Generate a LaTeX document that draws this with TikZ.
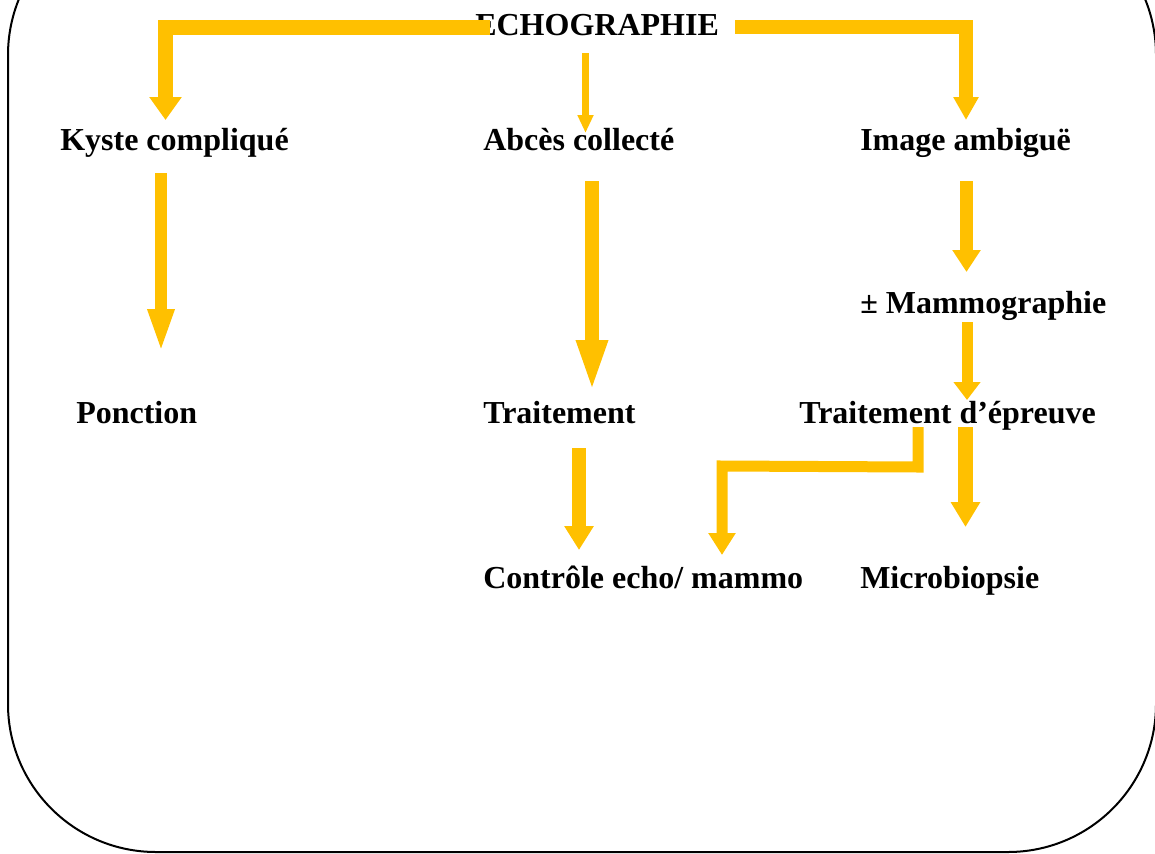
\documentclass[tikz,border=0pt]{standalone}
\usepackage{fontspec}
\setmainfont{Liberation Serif}
\usetikzlibrary{arrows.meta,calc}
\definecolor{amber}{HTML}{FFC000}
\tikzset{
  lbl/.style={anchor=base west, inner sep=0pt, font=\bfseries\fontsize{24}{28}\selectfont},
  flow/.style n args={3}{draw=amber, line width=#1, miter limit=10,
    -{Triangle[width=#2,length=#3]}},
}
\begin{document}
\begin{tikzpicture}[x=0.75pt,y=-0.75pt]
  \useasboundingbox (0,0) rectangle (1155,853);
  \clip (0,0) rectangle (1155,853);

  % outer frame with large rounded corners
  \draw[line width=1.5pt, rounded corners=111pt] (8,-93) rectangle (1156,852);

  % labels
  \node[lbl] (echo)     at (475,36)  {ECHOGRAPHIE};
  \node[lbl] (kyste)    at (60,150)  {Kyste compliqué};
  \node[lbl] (abces)    at (483,150) {Abcès collecté};
  \node[lbl] (image)    at (860,150) {Image ambiguë};
  \node[lbl] (mammo)    at (860,313) {± Mammographie};
  \node[lbl] (ponction) at (76,423)  {Ponction};
  \node[lbl] (trait)    at (483,423) {Traitement};
  \node[lbl] (tepreuve) at (799,423) {Traitement d’épreuve};
  \node[lbl] (controle) at (483,588) {Contrôle echo/ mammo};
  \node[lbl] (micro)    at (860,588) {Microbiopsie};

  % connectors
  \draw[flow={11.25pt}{23.25pt}{17.25pt}]
    ($(echo.base west)+(15,-9)$) -| ($(kyste.base west)+(105.5,-30)$);
  \draw[flow={10.5pt}{18pt}{17.25pt}]
    ($(echo.base west)+(260,-9)$) -| ($(image.base west)+(106,-30)$);
  \draw[flow={5.25pt}{11.25pt}{13.5pt}]
    ($(echo.base west)+(110.5,17)$) -- ($(abces.base west)+(102.5,-17)$);
  \draw[flow={9pt}{18pt}{33pt}]
    ($(kyste.base west)+(101,23)$) -- ($(ponction.base west)+(85,-70)$);
  \draw[flow={10.5pt}{21pt}{39.75pt}]
    ($(abces.base west)+(109,31)$) -- ($(trait.base west)+(109,-30)$);
  \draw[flow={10.5pt}{21pt}{18pt}]
    ($(trait.base west)+(96,25)$) -- ($(controle.base west)+(96,-38)$);
  \draw[flow={9.75pt}{20.25pt}{16.5pt}]
    ($(image.base west)+(106.5,31)$) -- ($(mammo.base west)+(106.5,-41)$);
  \draw[flow={8.25pt}{19.5pt}{13.5pt}]
    ($(mammo.base west)+(107,9)$) -- ($(tepreuve.base west)+(168,-23)$);
  \draw[flow={11.25pt}{21pt}{18.75pt}]
    ($(tepreuve.base west)+(166.5,4)$) -- ($(micro.base west)+(105.5,-61)$);
  \draw[flow={8.25pt}{19.5pt}{16.5pt}]
    ($(tepreuve.base west)+(119,4)$) -- ++(0,40) -- ++(-196,-1)
    -- ($(controle.base west)+(239,-33)$);
\end{tikzpicture}
\end{document}
